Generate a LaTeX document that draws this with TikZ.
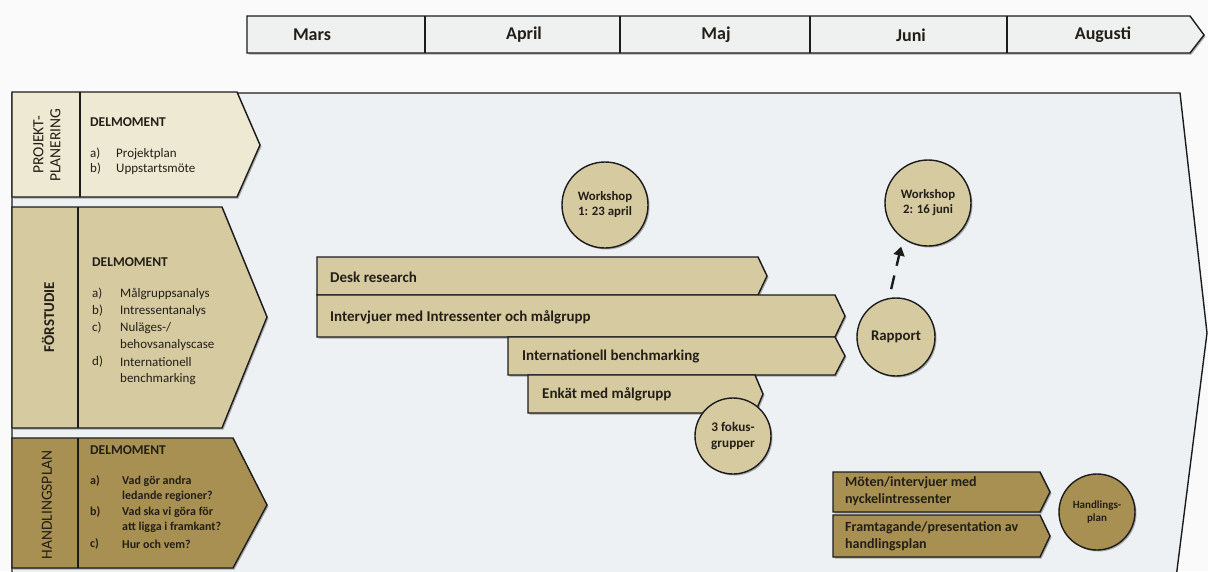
\documentclass[tikz,border=0pt]{standalone}
\usepackage{fontspec}
\setmainfont{Carlito}
\usetikzlibrary{arrows.meta,shadows}

\definecolor{pagebg}{HTML}{FAFAFA}
\definecolor{fieldbg}{HTML}{EEF1F3}
\definecolor{monthbg}{HTML}{EFF0F0}
\definecolor{cream}{HTML}{EEE9D3}
\definecolor{tan}{HTML}{D6CAA1}
\definecolor{olive}{HTML}{A89053}
\definecolor{ink}{HTML}{1C1C1C}
\definecolor{txt}{HTML}{231F16}

\begin{document}
\begin{tikzpicture}[x=1pt,y=-1pt,
  outline/.style={draw=ink, line width=1.4pt, line join=miter},
  lift/.style={drop shadow={shadow xshift=1.5pt, shadow yshift=-1.5pt, opacity=0.3, fill=black}},
  month/.style={font=\fontsize{18}{20}\selectfont\bfseries, text=txt, inner sep=0pt},
  phase/.style={font=\fontsize{15.5}{17}\selectfont, text=txt, align=center, rotate=90, inner sep=0pt},
  head/.style={font=\fontsize{13.5}{15}\selectfont\bfseries, text=txt, anchor=west, inner sep=0pt},
  item/.style={font=\fontsize{13}{15}\selectfont, text=txt, anchor=west, inner sep=0pt},
  bolditem/.style={item, font=\fontsize{12}{14}\selectfont\bfseries},
  barlabel/.style={font=\fontsize{15}{17}\selectfont\bfseries, text=txt, anchor=west, inner sep=0pt},
  twoline/.style={font=\fontsize{14}{17}\selectfont\bfseries, text=txt, anchor=west, align=left, inner sep=0pt},
  disc/.style={circle, outline, fill=tan, lift, align=center, text=txt, inner sep=0pt,
               font=\fontsize{12.8}{15}\selectfont\bfseries},
  linkarrow/.style={draw=ink, line width=2.4pt, dash pattern=on 14pt off 10pt,
               -{Triangle[length=9pt,width=11pt]}}
]
\useasboundingbox (0,0) rectangle (1208,571);
\fill[pagebg] (0,0) rectangle (1208,571);

% working field behind all phases
\draw[outline, fill=fieldbg] (12,93) -- (1180,93) -- (1207,333) -- (1176,578) -- (12,578) -- cycle;

% month timeline
\draw[outline, fill=monthbg, lift] (247,16) -- (1190,16) -- (1204,35) -- (1190,53) -- (247,53) -- cycle;
\foreach \x in {425,620,810,1007} \draw[outline] (\x,16) -- (\x,53);
\node[month] (mars) at (312,35) {Mars};
\node[month] (april) at (524,35) {April};
\node[month] (maj) at (716,35) {Maj};
\node[month] (juni) at (911,35) {Juni};
\node[month] (aug) at (1103,35) {Augusti};

% phase 1: project planning
\draw[outline, fill=cream, lift] (12,92) -- (237,92) -- (260,145) -- (237,197) -- (12,197) -- cycle;
\draw[outline] (80,92) -- (80,197);
\node[phase] (p1) at (47,145) {PROJEKT-\\PLANERING};
\node[head] (p1h) at (90,122) {DELMOMENT};
\node[item] (p1a) at (90,154) {a)};
\node[item] (p1at) at (116,154) {Projektplan};
\node[item] (p1b) at (90,169) {b)};
\node[item] (p1bt) at (116,169) {Uppstartsmöte};

% phase 2: pre-study
\draw[outline, fill=tan, lift] (12,207) -- (222,207) -- (267,317) -- (222,428) -- (12,428) -- cycle;
\draw[outline] (78,207) -- (78,428);
\node[phase, font=\fontsize{15}{17}\selectfont\bfseries] (p2) at (48,317) {FÖRSTUDIE};
\node[head] (p2h) at (92,262) {DELMOMENT};
\node[item] (p2a) at (92,294) {a)};
\node[item] (p2at) at (120,294) {Målgruppsanalys};
\node[item] (p2b) at (92,311) {b)};
\node[item] (p2bt) at (120,311) {Intressentanalys};
\node[item] (p2c) at (92,328) {c)};
\node[item] (p2ct) at (120,328) {Nuläges-/};
\node[item] (p2ct2) at (120,345) {behovsanalyscase};
\node[item] (p2d) at (92,362) {d)};
\node[item] (p2dt) at (120,362) {Internationell};
\node[item] (p2dt2) at (120,379) {benchmarking};

% phase 3: action plan
\draw[outline, fill=olive, lift] (12,438) -- (233,438) -- (267,505) -- (233,568) -- (12,568) -- cycle;
\draw[outline] (78,438) -- (78,568);
\node[phase] (p3) at (47,505) {HANDLINGSPLAN};
\node[head] (p3h) at (90,450) {DELMOMENT};
\node[bolditem] (p3a) at (90,481) {a)};
\node[bolditem] (p3at) at (122,481) {Vad gör andra};
\node[bolditem] (p3at2) at (122,496) {ledande regioner?};
\node[bolditem] (p3b) at (90,512) {b)};
\node[bolditem] (p3bt) at (122,512) {Vad ska vi göra för};
\node[bolditem] (p3bt2) at (122,527) {att ligga i framkant?};
\node[bolditem] (p3c) at (90,544) {c)};
\node[bolditem] (p3ct) at (122,544) {Hur och vem?};

% pre-study activities
\draw[outline, fill=tan, lift] (317,257) -- (758,257) -- (767,276) -- (758,295) -- (317,295) -- cycle;
\node[barlabel] (desk) at (330,277) {Desk research};
\draw[outline, fill=tan, lift] (317,295) -- (835,295) -- (845,316) -- (835,337) -- (317,337) -- cycle;
\node[barlabel] (interv) at (330,317) {Intervjuer med Intressenter och målgrupp};
\draw[outline, fill=tan, lift] (508,337) -- (835,337) -- (845,356) -- (835,375) -- (508,375) -- cycle;
\node[barlabel] (bench) at (522,356) {Internationell benchmarking};
\draw[outline, fill=tan, lift] (528,375) -- (755,375) -- (763,394) -- (755,413) -- (528,413) -- cycle;
\node[barlabel] (enkat) at (542,394) {Enkät med målgrupp};

% action plan activities
\draw[outline, fill=olive, lift] (833,472) -- (1040,472) -- (1050,492) -- (1040,512) -- (833,512) -- cycle;
\node[twoline] (moten) at (845,491) {Möten/intervjuer med\\nyckelintressenter};
\draw[outline, fill=olive, lift] (833,515) -- (1040,515) -- (1050,536) -- (1040,557) -- (833,557) -- cycle;
\node[twoline] (framt) at (845,536) {Framtagande/presentation av\\handlingsplan};

% milestones
\node[disc, minimum size=86pt] (ws1) at (605,205) {Workshop\\1: 23 april};
\node[disc, minimum size=86pt] (ws2) at (928,203) {Workshop\\2: 16 juni};
\node[disc, minimum size=78pt, font=\fontsize{14.8}{17}\selectfont\bfseries] (rapport) at (896,337) {Rapport};
\node[disc, minimum size=76pt, font=\fontsize{13.2}{16}\selectfont\bfseries] (fokus) at (733,436) {3 fokus-\\grupper};
\node[disc, minimum size=76pt, fill=olive, font=\fontsize{11}{13.5}\selectfont\bfseries] (hplan) at (1097,512) {Handlings-\\plan};

% report feeds the second workshop
\draw[linkarrow, shorten <=9pt, shorten >=8pt] (rapport.100) -- (ws2.235);
\end{tikzpicture}
\end{document}
